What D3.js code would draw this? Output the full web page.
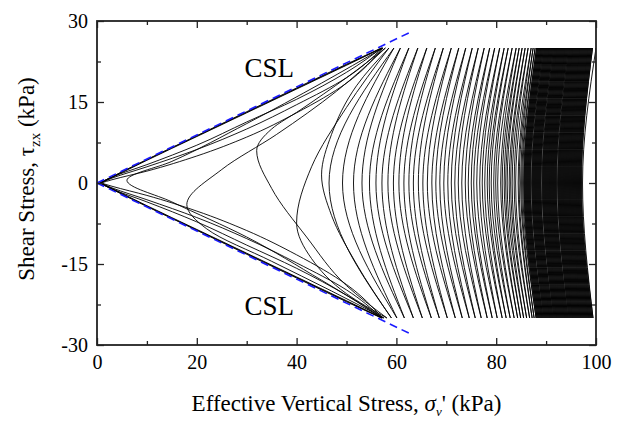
<!DOCTYPE html>
<html>
<head>
<meta charset="utf-8">
<script src="https://cdn.jsdelivr.net/npm/d3@7"></script>
<style>
  body { margin: 0; background: #fff; }
  svg { display: block; }
  svg text { font-family: "Liberation Serif", "Times New Roman", serif; }
</style>
</head>
<body>
<svg id="chart" width="621" height="423"></svg>
<script>
// Axis ticks
const xTicks = [0, 20, 40, 60, 80, 100];
const xMinorTicks = [10, 30, 50, 70, 90];
const yTicks = [-30, -15, 0, 15, 30];
const yMinorTicks = [-22.5, -7.5, 7.5, 22.5];

// Critical state lines (σv', τzx)
const cslUpper = [[0, 0], [62.5, 27.8]];
const cslLower = [[0, 0], [62.5, -27.8]];

// Initial loading from the start of the test
const startLeg = [[100, 0], [100, 25]];

// σv' at successive shear stress peaks (alternating τ = +25 and τ = -25)
const peakSigma = [
  100.0, 99.4, 99.3, 99.2, 99.1, 99.0, 98.9, 98.8, 98.7, 98.6,
  98.5, 98.4, 98.3, 98.2, 98.1, 98.0, 97.9, 97.8, 97.7, 97.6,
  97.5, 97.4, 97.3, 97.2, 97.1, 97.0, 96.9, 96.8, 96.7, 96.6,
  96.5, 96.4, 96.3, 96.2, 96.1, 96.0, 95.9, 95.8, 95.7, 95.6,
  95.5, 95.4, 95.3, 95.2, 95.1, 95.0, 94.9, 94.8, 94.7, 94.6,
  94.5, 94.4, 94.3, 94.2, 94.1, 94.0, 93.9, 93.8, 93.7, 93.6,
  93.5, 93.4, 93.3, 93.2, 93.1, 93.0, 92.9, 92.8, 92.7, 92.6,
  92.5, 92.4, 92.3, 92.2, 92.1, 92.0, 91.9, 91.8, 91.7, 91.6,
  91.5, 91.4, 91.3, 91.2, 91.1, 91.0, 90.9, 90.8, 90.7, 90.6,
  90.5, 90.4, 90.3, 90.2, 90.1, 90.0, 89.9, 89.8, 89.7, 89.6,
  89.5, 89.4, 89.3, 89.2, 89.1, 89.0, 88.9, 88.8, 88.7, 88.6,
  88.5, 88.4, 88.3, 88.2, 88.1, 88.0, 87.8, 87.6, 87.4, 87.2,
  87.0, 86.7, 86.4, 86.1, 85.8, 85.5, 85.2, 84.9, 84.6, 84.3,
  84.0, 83.6, 83.2, 82.8, 82.4, 82.0, 81.6, 81.2, 80.7, 80.2,
  79.7, 79.2, 78.7, 78.2, 77.6, 77.0, 76.4, 75.8, 75.2, 74.6,
  73.9, 73.2, 72.5, 71.8, 71.0, 70.2, 69.4, 68.6, 67.8, 67.0,
  66.1, 65.2, 64.3, 63.4, 62.5, 61.6, 60.8, 60.1, 59.5, 59.0
];

// σv' where each half cycle crosses τ = 0 (its leftmost point)
const midSigma = [
  97.3, 97.1, 97.0, 96.9, 96.8, 96.7, 96.6, 96.5, 96.4, 96.3,
  96.2, 96.1, 96.0, 95.9, 95.8, 95.7, 95.6, 95.5, 95.4, 95.3,
  95.2, 95.1, 95.0, 94.9, 94.8, 94.7, 94.6, 94.5, 94.4, 94.3,
  94.2, 94.1, 94.0, 93.9, 93.8, 93.7, 93.6, 93.5, 93.4, 93.3,
  93.2, 93.1, 93.0, 92.9, 92.8, 92.7, 92.6, 92.5, 92.4, 92.3,
  92.1, 92.0, 91.9, 91.8, 91.7, 91.6, 91.5, 91.4, 91.3, 91.2,
  91.1, 91.0, 90.9, 90.8, 90.7, 90.6, 90.5, 90.4, 90.3, 90.2,
  90.1, 90.0, 89.9, 89.8, 89.7, 89.6, 89.5, 89.4, 89.3, 89.2,
  89.0, 88.9, 88.8, 88.7, 88.6, 88.5, 88.4, 88.3, 88.2, 88.1,
  88.0, 87.9, 87.8, 87.7, 87.6, 87.5, 87.4, 87.3, 87.2, 87.1,
  86.9, 86.8, 86.7, 86.6, 86.5, 86.4, 86.3, 86.2, 86.1, 86.0,
  85.9, 85.8, 85.7, 85.6, 85.5, 85.3, 85.1, 84.9, 84.6, 84.4,
  83.9, 83.6, 83.2, 82.9, 82.6, 82.2, 81.9, 81.6, 81.2, 80.9,
  80.3, 79.9, 79.5, 79.0, 78.6, 78.2, 77.7, 77.2, 76.7, 76.1,
  75.5, 75.0, 74.4, 73.8, 73.1, 72.4, 71.7, 71.0, 70.3, 69.5,
  68.7, 67.9, 67.1, 66.2, 65.3, 64.4, 63.4, 62.5, 61.5, 60.5,
  59.4, 58.3, 57.1, 55.9, 54.6, 53.1, 51.4, 49.2, 46.5
];

// Half cycles approaching the critical state, traced point by point (σv', τzx)
const transitionArcs = [
  [[59.0, -25], [52, -15], [47, -6], [45, 1.5], [47, 9], [52, 18], [58.5, 25]],
  [[58.5, 25], [50, 14], [43, 3], [40, -7.4], [43, -14], [50, -20.5], [58.1, -25]],
  [[58.1, -25], [50, -19], [42, -10], [35, -1], [32, 6], [35, 10], [40.7, 13.5], [50, 19.5], [57.8, 25]],
  [[57.8, 25], [48, 17], [36, 9], [25, 2.5], [18, -4], [22, -8.5], [35, -14.5], [47, -20], [57.5, -25]],
  [[57.5, -25], [45, -18], [30, -10], [15, -3.5], [6, 0.5], [15, 4], [30, 11], [45, 18.5], [57.3, 25]]
];

// Post-liquefaction legs between the peaks and the origin
const flowLegs = [
  [[57.3, 25], [50, 18.5], [40, 13.0], [30, 8.5], [20, 5.0], [10, 2.2], [3, 0.6], [0.8, 0]],
  [[0.8, 0], [10, -4.2], [20, -8.6], [30, -13.0], [40, -17.4], [50, -21.8], [57.2, -25]],
  [[57.2, -25], [50, -18.8], [40, -13.3], [30, -8.8], [20, -5.2], [10, -2.3], [3, -0.6], [0.8, 0]],
  [[0.8, 0], [10, 4.2], [20, 8.6], [30, 13.0], [40, 17.4], [50, 21.8], [57.2, 25]],
  [[57.2, 25], [50, 19.5], [40, 14.5], [30, 10.0], [20, 6.2], [10, 3.0], [3, 0.9], [0.6, 0]],
  [[0.6, 0], [10, -4.3], [20, -8.7], [30, -13.1], [40, -17.5], [50, -21.9], [57.1, -25]],
  [[57.1, -25], [50, -19.8], [40, -14.8], [30, -10.3], [20, -6.4], [10, -3.1], [3, -0.9], [0.6, 0]],
  [[0.6, 0], [10, 4.3], [20, 8.7], [30, 13.1], [40, 17.5], [50, 21.9], [57.1, 25]],
  [[57.1, 25], [50, 20.5], [40, 15.5], [30, 11.3], [20, 7.0], [10, 3.4], [3, 1.1], [0.5, 0]],
  [[0.5, 0], [10, -4.35], [20, -8.75], [30, -13.2], [40, -17.6], [50, -22.0], [57.0, -25]],
  [[57.0, -25], [50, -20.8], [40, -15.8], [30, -11.5], [20, -7.2], [10, -3.5], [3, -1.1], [0.5, 0]],
  [[0.5, 0], [10, 4.35], [20, 8.75], [30, 13.2], [40, 17.6], [50, 22.0], [57.0, 25]]
];

const width = 621, height = 423;
const margin = { top: 21, right: 25, bottom: 78, left: 97 };
const innerW = width - margin.left - margin.right;
const innerH = height - margin.top - margin.bottom;
const serif = "'Liberation Serif', 'Times New Roman', serif";

const svg = d3.select("#chart");
const g = svg.append("g").attr("transform", `translate(${margin.left},${margin.top})`);

const x = d3.scaleLinear().domain([0, 100]).range([0, innerW]);
const y = d3.scaleLinear().domain([-30, 30]).range([innerH, 0]);

svg.append("clipPath").attr("id", "plot-clip")
  .append("rect").attr("x", 0).attr("y", 0).attr("width", innerW).attr("height", innerH);

const line = d3.line().x(d => x(d[0])).y(d => y(d[1])).curve(d3.curveMonotoneY);
const straight = d3.line().x(d => x(d[0])).y(d => y(d[1]));

// Assemble every half cycle of the stress path
const legs = [startLeg];
for (let i = 0; i < midSigma.length; i++) {
  const s = i % 2 === 0 ? 1 : -1;
  legs.push([[peakSigma[i], 25 * s], [midSigma[i], 0], [peakSigma[i + 1], -25 * s]]);
}
transitionArcs.forEach(a => legs.push(a));
flowLegs.forEach(a => legs.push(a));

const paths = g.append("g").attr("clip-path", "url(#plot-clip)");
paths.selectAll("path.leg").data(legs).join("path")
  .attr("class", "leg")
  .attr("d", d => (d.length === 2 ? straight(d) : line(d)))
  .attr("fill", "none")
  .attr("stroke", "#000")
  .attr("stroke-width", 0.9);

// Critical state lines
g.selectAll("path.csl").data([cslUpper, cslLower]).join("path")
  .attr("class", "csl")
  .attr("d", straight)
  .attr("fill", "none")
  .attr("stroke", "#1a1aff")
  .attr("stroke-width", 1.6)
  .attr("stroke-dasharray", "8,5");

// Axes with inward ticks on all four sides
const axisColor = "#222";
const tickFmt = d => String(d);
function styleAxis(sel) {
  sel.attr("font-family", null).attr("font-size", null);
  sel.select(".domain").remove();
  sel.selectAll(".tick line").attr("stroke", axisColor).attr("stroke-width", 1.3);
  sel.selectAll(".tick text").attr("fill", "#000")
    .style("font-size", "20px").style("font-family", serif);
}

g.append("g").attr("transform", `translate(0,${innerH})`)
  .call(d3.axisBottom(x).tickValues(xTicks).tickSize(-7).tickPadding(10).tickFormat(tickFmt))
  .call(styleAxis);
g.append("g").attr("transform", `translate(0,${innerH})`)
  .call(d3.axisBottom(x).tickValues(xMinorTicks).tickSize(-4).tickFormat(""))
  .call(styleAxis);
g.append("g")
  .call(d3.axisTop(x).tickValues(xTicks).tickSize(-7).tickFormat(""))
  .call(styleAxis);
g.append("g")
  .call(d3.axisTop(x).tickValues(xMinorTicks).tickSize(-4).tickFormat(""))
  .call(styleAxis);

g.append("g")
  .call(d3.axisLeft(y).tickValues(yTicks).tickSize(-7).tickPadding(9).tickFormat(tickFmt))
  .call(styleAxis);
g.append("g")
  .call(d3.axisLeft(y).tickValues(yMinorTicks).tickSize(-4).tickFormat(""))
  .call(styleAxis);
g.append("g").attr("transform", `translate(${innerW},0)`)
  .call(d3.axisRight(y).tickValues(yTicks).tickSize(-7).tickFormat(""))
  .call(styleAxis);
g.append("g").attr("transform", `translate(${innerW},0)`)
  .call(d3.axisRight(y).tickValues(yMinorTicks).tickSize(-4).tickFormat(""))
  .call(styleAxis);

// Plot frame
g.append("rect")
  .attr("x", 0).attr("y", 0).attr("width", innerW).attr("height", innerH)
  .attr("fill", "none").attr("stroke", axisColor).attr("stroke-width", 1.8);

// Region labels
g.append("text").attr("x", x(34.5)).attr("y", y(19.6))
  .attr("text-anchor", "middle").style("font-size", "27px").text("CSL");
g.append("text").attr("x", x(34.5)).attr("y", y(-24.4))
  .attr("text-anchor", "middle").style("font-size", "27px").text("CSL");

// Axis titles
const xTitle = svg.append("text")
  .attr("x", margin.left + innerW / 2).attr("y", 411)
  .attr("text-anchor", "middle").style("font-size", "23px");
xTitle.append("tspan").text("Effective Vertical Stress, ");
xTitle.append("tspan").attr("font-style", "italic").text("σ");
xTitle.append("tspan").style("font-size", "13px").attr("dy", 5).attr("font-style", "italic").text("v");
xTitle.append("tspan").attr("dy", -5).text("' (kPa)");

const yTitle = svg.append("text")
  .attr("transform", "translate(34,179) rotate(-90)")
  .attr("text-anchor", "middle").style("font-size", "23px");
yTitle.append("tspan").text("Shear Stress, τ");
yTitle.append("tspan").style("font-size", "15px").attr("dy", 6).text("zx");
yTitle.append("tspan").attr("dy", -6).text(" (kPa)");
</script>
</body>
</html>
